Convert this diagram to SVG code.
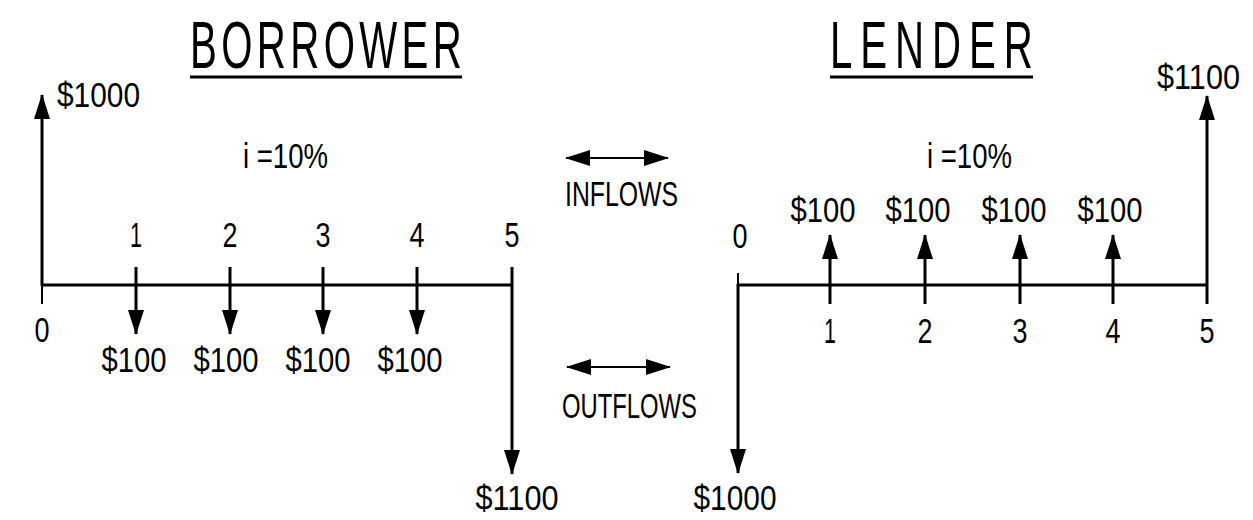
<svg xmlns="http://www.w3.org/2000/svg" width="1253" height="520" viewBox="0 0 1253 520">
<style>
text{font-family:"Liberation Sans",Arial,sans-serif;fill:#000}
.t{font-size:67px}
.l{font-size:35px}
.ax{stroke:#000;stroke-width:3;fill:none}
.tk{stroke:#000;stroke-width:2;fill:none}
.ar{stroke:#000;stroke-width:3;fill:none;marker-end:url(#ah)}
.lg{stroke:#000;stroke-width:2;fill:none;marker-start:url(#ah);marker-end:url(#ah)}
</style>
<defs>
<marker id="ah" viewBox="0 0 25 16" refX="24" refY="8" markerWidth="25" markerHeight="16" markerUnits="userSpaceOnUse" orient="auto-start-reverse">
<path d="M0,0 L25,8 L0,16 z" fill="#000"/>
</marker>
</defs>
<rect width="1253" height="520" fill="#fff"/>
<g id="borrower-title">
<text class="t" transform="translate(190,68) scale(0.6,1)" x="0" y="0" textLength="453" lengthAdjust="spacing">BORROWER</text>
<line class="ax" x1="190" y1="77" x2="462" y2="77"/>
</g>
<g id="lender-title">
<text class="t" transform="translate(830,68) scale(0.6,1)" x="0" y="0" textLength="338" lengthAdjust="spacing">LENDER</text>
<line class="ax" x1="830" y1="77" x2="1033" y2="77"/>
</g>
<g id="connectors">
<line class="ax" x1="42" y1="285" x2="512" y2="285"/>
<line class="tk" x1="42" y1="285" x2="42" y2="304"/>
<line class="ar" x1="42" y1="286" x2="42" y2="95"/>
<line class="ar" x1="136" y1="267" x2="136" y2="334"/>
<line class="ar" x1="230" y1="267" x2="230" y2="334"/>
<line class="ar" x1="323" y1="267" x2="323" y2="334"/>
<line class="ar" x1="417" y1="267" x2="417" y2="334"/>
<line class="ar" x1="512" y1="267" x2="512" y2="474"/>
<line class="ax" x1="738" y1="285" x2="1207" y2="285"/>
<line class="tk" x1="738" y1="273" x2="738" y2="285"/>
<line class="ar" x1="738" y1="284" x2="738" y2="473"/>
<line class="ar" x1="830" y1="304" x2="830" y2="235"/>
<line class="ar" x1="925" y1="304" x2="925" y2="235"/>
<line class="ar" x1="1020" y1="304" x2="1020" y2="235"/>
<line class="ar" x1="1113" y1="304" x2="1113" y2="235"/>
<line class="ar" x1="1207" y1="304" x2="1207" y2="96"/>
<line class="lg" x1="566" y1="158" x2="668" y2="158"/>
<line class="lg" x1="567" y1="367" x2="670" y2="367"/>
</g>
<g id="borrower-labels">
<text class="l" x="57" y="107" textLength="83" lengthAdjust="spacingAndGlyphs">$1000</text>
<text class="l" x="243" y="168" textLength="85" lengthAdjust="spacingAndGlyphs">i =10%</text>
<text class="l" x="136" y="247" text-anchor="middle" textLength="12" lengthAdjust="spacingAndGlyphs">1</text>
<text class="l" x="230" y="247" text-anchor="middle" textLength="15" lengthAdjust="spacingAndGlyphs">2</text>
<text class="l" x="323" y="247" text-anchor="middle" textLength="15" lengthAdjust="spacingAndGlyphs">3</text>
<text class="l" x="417" y="247" text-anchor="middle" textLength="15" lengthAdjust="spacingAndGlyphs">4</text>
<text class="l" x="512" y="247" text-anchor="middle" textLength="15" lengthAdjust="spacingAndGlyphs">5</text>
<text class="l" x="42" y="342" text-anchor="middle" textLength="15" lengthAdjust="spacingAndGlyphs">0</text>
<text class="l" x="134" y="372" text-anchor="middle" textLength="65" lengthAdjust="spacingAndGlyphs">$100</text>
<text class="l" x="226" y="372" text-anchor="middle" textLength="65" lengthAdjust="spacingAndGlyphs">$100</text>
<text class="l" x="318" y="372" text-anchor="middle" textLength="65" lengthAdjust="spacingAndGlyphs">$100</text>
<text class="l" x="410" y="372" text-anchor="middle" textLength="65" lengthAdjust="spacingAndGlyphs">$100</text>
<text class="l" x="517" y="510" text-anchor="middle" textLength="83" lengthAdjust="spacingAndGlyphs">$1100</text>
</g>
<g id="legend">
<text class="l" x="565" y="206" textLength="113" lengthAdjust="spacingAndGlyphs">INFLOWS</text>
<text class="l" x="562" y="418" textLength="135" lengthAdjust="spacingAndGlyphs">OUTFLOWS</text>
</g>
<g id="lender-labels">
<text class="l" x="1157" y="89" textLength="83" lengthAdjust="spacingAndGlyphs">$1100</text>
<text class="l" x="927" y="168" textLength="85" lengthAdjust="spacingAndGlyphs">i =10%</text>
<text class="l" x="823" y="222" text-anchor="middle" textLength="65" lengthAdjust="spacingAndGlyphs">$100</text>
<text class="l" x="918" y="222" text-anchor="middle" textLength="65" lengthAdjust="spacingAndGlyphs">$100</text>
<text class="l" x="1014" y="222" text-anchor="middle" textLength="65" lengthAdjust="spacingAndGlyphs">$100</text>
<text class="l" x="1110" y="222" text-anchor="middle" textLength="65" lengthAdjust="spacingAndGlyphs">$100</text>
<text class="l" x="740" y="248" text-anchor="middle" textLength="15" lengthAdjust="spacingAndGlyphs">0</text>
<text class="l" x="830" y="343" text-anchor="middle" textLength="12" lengthAdjust="spacingAndGlyphs">1</text>
<text class="l" x="925" y="343" text-anchor="middle" textLength="15" lengthAdjust="spacingAndGlyphs">2</text>
<text class="l" x="1020" y="343" text-anchor="middle" textLength="15" lengthAdjust="spacingAndGlyphs">3</text>
<text class="l" x="1113" y="343" text-anchor="middle" textLength="15" lengthAdjust="spacingAndGlyphs">4</text>
<text class="l" x="1207" y="343" text-anchor="middle" textLength="15" lengthAdjust="spacingAndGlyphs">5</text>
<text class="l" x="735" y="510" text-anchor="middle" textLength="83" lengthAdjust="spacingAndGlyphs">$1000</text>
</g>
</svg>
